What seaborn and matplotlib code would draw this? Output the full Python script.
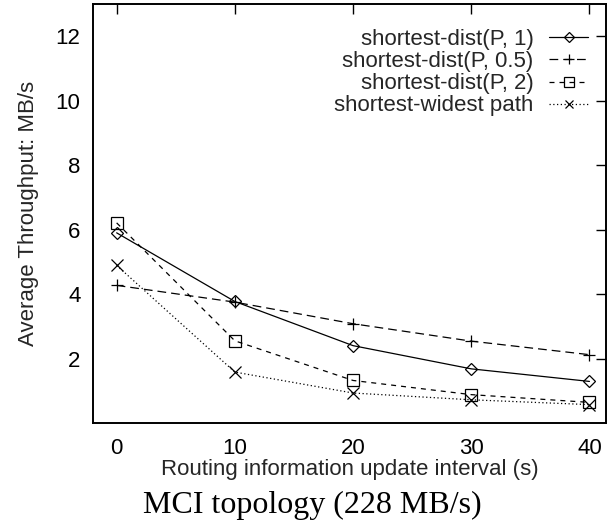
import numpy as np
import pandas as pd
import seaborn as sns
import matplotlib
matplotlib.use("Agg")
import matplotlib.pyplot as plt

# Routing update interval (s)
intervals = [0, 10, 20, 30, 40]

# Average throughput (MB/s) per routing scheme
sd_p1 = [5.90, 3.77, 2.40, 1.68, 1.29]
sd_p05 = [4.27, 3.75, 3.08, 2.54, 2.12]
sd_p2 = [6.21, 2.55, 1.32, 0.88, 0.64]
sw_path = [4.89, 1.58, 0.93, 0.72, 0.57]

series_names = ["shortest-dist(P, 1)", "shortest-dist(P, 0.5)",
                "shortest-dist(P, 2)", "shortest-widest path"]
series_values = [sd_p1, sd_p05, sd_p2, sw_path]

y_ticks = [2, 4, 6, 8, 10, 12]
x_ticks = [0, 10, 20, 30, 40]

sns.set_theme(style="white")
plt.rcParams["font.family"] = ["Liberation Sans", "DejaVu Sans"]
plt.rcParams["axes.edgecolor"] = "black"
plt.rcParams["axes.linewidth"] = 1.4

df = pd.DataFrame({
    "interval": intervals * len(series_names),
    "throughput": sum(series_values, []),
    "scheme": [n for n in series_names for _ in intervals],
})

styles = {
    "shortest-dist(P, 1)": dict(marker="D", ms=6.5, ls="-"),
    "shortest-dist(P, 0.5)": dict(marker="+", ms=9.0, ls=(0, (7, 4))),
    "shortest-dist(P, 2)": dict(marker="s", ms=8.5, ls=(0, (4, 4))),
    "shortest-widest path": dict(marker="x", ms=8.0, ls=(0, (1, 2))),
}

FS = 16

fig = plt.figure(figsize=(6.07, 5.29), dpi=100)
ax = fig.add_axes([93 / 607, 1 - 423 / 529, 513 / 607, 419 / 529])

for name in series_names:
    st = styles[name]
    sub = df[df["scheme"] == name]
    sns.lineplot(data=sub, x="interval", y="throughput", ax=ax,
                 color="black", lw=0.9, linestyle=st["ls"],
                 marker=st["marker"], markersize=st["ms"],
                 markerfacecolor="none", markeredgecolor="black",
                 mew=0.9, label=name)

ax.set_xlim(-2.0, 41.4)
ax.set_ylim(0, 13)
ax.set_xticks(x_ticks)
ax.set_yticks(y_ticks)
ax.tick_params(axis="both", which="both", direction="in", length=7,
               width=1.0, top=True, right=True, labelsize=FS,
               colors="black", pad=9)
ax.tick_params(axis="x", pad=11)

ax.set_xlabel("Routing information update interval (s)", fontsize=FS,
              labelpad=0)
ax.set_ylabel("Average Throughput: MB/s", fontsize=FS, labelpad=12)

leg = ax.legend(loc="upper right", bbox_to_anchor=(0.965, 0.94),
                frameon=False, markerfirst=False, fontsize=FS,
                handlelength=1.75, handletextpad=0.7, labelspacing=0.05,
                markerscale=0.8, borderpad=0, borderaxespad=0)

fig.text(312 / 607, 1 - 505 / 529, "MCI topology (228 MB/s)",
         family=["Liberation Serif", "DejaVu Serif"], fontsize=23,
         ha="center", va="center", color="black")

fig.savefig("out.png", dpi=100)
